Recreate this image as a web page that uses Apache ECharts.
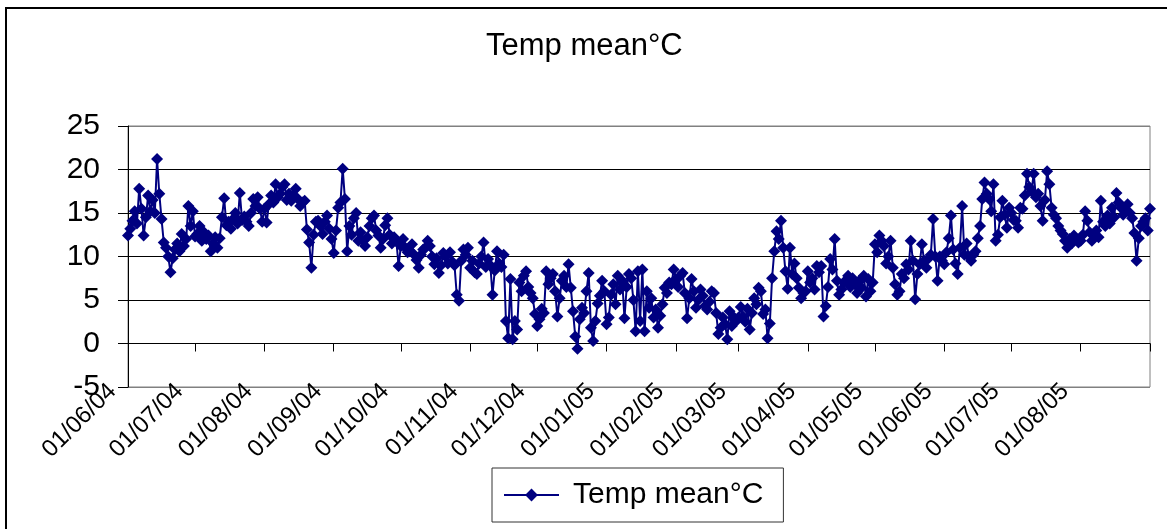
<!DOCTYPE html>
<html><head><meta charset="utf-8">
<script src="https://cdn.jsdelivr.net/npm/echarts@6/dist/echarts.min.js"></script>
<style>html,body{margin:0;padding:0;background:#fff}#c{width:1167px;height:529px}</style>
</head><body><div id="c"></div>
<script>
// Daily mean temperature, 01/06/04 .. 01/09/05
const titleText = 'Temp mean°C';
const seriesName = 'Temp mean°C';
const monthTickLabels = ['01/06/04','01/07/04','01/08/04','01/09/04','01/10/04','01/11/04','01/12/04',
  '01/01/05','01/02/05','01/03/05','01/04/05','01/05/05','01/06/05','01/07/05','01/08/05'];
const yTicks = [-5, 0, 5, 10, 15, 20, 25];

const jun04 = [12.4, 13.2, 14.1, 15.2, 13.8, 17.8, 15.5, 12.4, 14.5, 17.0, 15.2, 16.5, 15.0, 21.2, 17.2, 14.3, 11.6, 11.0, 10.0, 8.2, 9.8, 10.8, 11.5, 10.6, 12.6, 11.2, 12.0, 15.8, 13.5, 15.2];
const jul04 = [12.3, 12.6, 13.5, 11.8, 12.8, 12.0, 12.4, 10.6, 11.5, 12.2, 11.0, 12.1, 14.5, 16.7, 13.6, 14.0, 13.2, 14.3, 15.0, 13.8, 17.3, 14.2, 14.6, 14.0, 13.5, 15.0, 16.6, 15.8, 16.8, 15.5, 14.0];
const aug04 = [15.5, 13.9, 16.0, 17.0, 16.2, 18.3, 16.8, 17.2, 18.0, 18.3, 16.5, 17.2, 16.4, 17.0, 17.8, 16.6, 15.8, 16.2, 16.4, 13.1, 11.6, 8.7, 12.5, 14.0, 14.1, 13.5, 12.6, 14.0, 14.7, 13.2, 12.0];
const sep04 = [10.4, 13.0, 15.6, 16.2, 20.1, 16.6, 10.6, 13.5, 12.5, 14.4, 15.0, 11.8, 12.8, 11.8, 11.2, 12.2, 13.5, 14.4, 14.7, 13.0, 12.4, 11.0, 12.0, 13.6, 14.4, 12.5, 11.5, 12.2, 11.8, 8.9];
const oct04 = [11.2, 12.0, 11.0, 10.5, 10.6, 11.4, 10.2, 9.6, 8.7, 10.2, 10.8, 11.0, 11.8, 11.2, 10.0, 9.1, 9.8, 8.1, 9.0, 10.4, 10.0, 9.2, 10.5, 9.4, 9.0, 5.6, 4.9, 9.5, 10.8, 10.2, 11.0];
const nov04 = [8.7, 9.5, 8.2, 8.0, 9.2, 10.0, 11.6, 8.8, 9.7, 9.0, 5.6, 8.4, 10.6, 9.2, 8.8, 10.2, 2.6, 0.6, 7.4, 0.5, 2.6, 1.6, 7.0, 6.0, 7.8, 8.3, 6.5, 5.8, 5.2, 3.4];
const dec04 = [2.0, 2.8, 4.0, 3.5, 8.3, 6.8, 7.5, 8.0, 6.0, 3.1, 5.2, 7.2, 7.8, 6.5, 9.1, 6.4, 3.7, 0.8, -0.6, 2.8, 4.1, 3.5, 6.0, 8.1, 1.8, 0.3, 2.6, 4.6, 5.5, 7.2, 6.0];
const jan05 = [2.2, 3.0, 5.6, 6.8, 4.5, 7.8, 6.2, 7.2, 2.9, 6.5, 8.0, 7.5, 5.0, 1.4, 8.3, 2.6, 8.5, 1.4, 6.0, 4.1, 5.2, 3.0, 3.9, 1.8, 3.2, 4.5, 6.4, 5.8, 7.0, 6.8, 8.5];
const feb05 = [7.4, 6.5, 7.8, 8.1, 5.8, 2.9, 5.2, 7.4, 6.0, 4.1, 5.0, 6.2, 5.5, 4.3, 3.9, 4.8, 6.0, 5.8, 3.5, 1.1, 1.8, 3.0, 2.2, 0.5, 3.7, 2.0, 3.0, 2.6];
const mar05 = [3.0, 4.2, 3.1, 2.5, 4.0, 1.6, 3.5, 5.2, 4.5, 6.4, 6.0, 3.4, 3.9, 0.6, 2.3, 7.5, 10.6, 12.9, 12.0, 14.1, 11.0, 8.3, 6.3, 11.0, 8.0, 9.2, 7.5, 6.4, 5.2, 5.8, 6.0];
const apr05 = [8.3, 7.0, 7.5, 6.2, 8.9, 8.2, 8.9, 3.1, 4.3, 6.5, 9.7, 8.5, 12.0, 7.2, 5.6, 6.2, 7.0, 7.2, 7.8, 6.5, 7.5, 6.8, 5.8, 7.2, 6.4, 7.8, 5.4, 7.4, 6.0, 7.0];
const may05 = [11.4, 10.5, 12.4, 11.8, 11.2, 9.2, 10.0, 11.8, 8.7, 6.8, 5.6, 6.0, 8.0, 7.5, 9.1, 8.5, 11.8, 9.5, 5.1, 8.0, 9.1, 11.4, 9.5, 8.7, 9.8, 10.2, 14.3, 10.0, 7.2, 10.0, 9.5];
const jun05 = [9.1, 10.5, 12.1, 14.7, 10.8, 9.2, 8.0, 11.0, 15.8, 10.2, 11.5, 10.0, 9.5, 10.2, 10.6, 12.1, 13.5, 16.6, 18.5, 17.2, 16.6, 15.2, 18.3, 11.8, 12.5, 14.5, 16.4, 14.8, 13.3, 15.6];
const jul05 = [15.0, 14.2, 14.1, 13.3, 15.6, 15.5, 17.0, 19.5, 18.0, 17.5, 19.5, 16.8, 17.2, 15.8, 14.1, 16.5, 19.8, 18.3, 15.6, 14.8, 14.4, 13.5, 13.0, 12.6, 11.8, 11.0, 12.0, 11.5, 12.4, 12.0, 11.6];
const aug05 = [11.8, 12.5, 15.2, 14.1, 12.8, 11.8, 12.4, 13.0, 12.2, 16.4, 14.0, 13.5, 14.7, 13.8, 15.6, 14.5, 17.3, 16.2, 15.6, 14.8, 15.2, 16.0, 15.0, 14.4, 12.7, 9.5, 12.1, 13.5, 14.0, 14.4, 13.0];
const sep05 = [15.5];

const values = [].concat(jun04, jul04, aug04, sep04, oct04, nov04, dec04,
  jan05, feb05, mar05, apr05, may05, jun05, jul05, aug05, sep05);

function pad(n) { return (n < 10 ? '0' : '') + n; }
const categories = [];
for (let i = 0; i < values.length; i++) {
  const d = new Date(Date.UTC(2004, 5, 1 + i));
  categories.push(pad(d.getUTCDate()) + '/' + pad(d.getUTCMonth() + 1) + '/' + String(d.getUTCFullYear()).slice(2));
}

const FONT = '"Liberation Sans", Arial, sans-serif';
const chart = echarts.init(document.getElementById('c'), null, { renderer: 'canvas' });
chart.setOption({
  animation: false,
  backgroundColor: '#fff',
  graphic: [{
    type: 'rect', shape: { x: 6, y: 8, width: 1200, height: 600 },
    style: { fill: 'none', stroke: '#000', lineWidth: 2 }, silent: true, z: 100
  }],
  title: {
    text: titleText, left: 486, top: 31, padding: 0,
    textStyle: { fontFamily: FONT, fontSize: 31, fontWeight: 'normal', color: '#000' }
  },
  legend: {
    data: [seriesName], left: 492, top: 468,
    padding: [12, 20, 12, 11],
    borderColor: '#333', borderWidth: 1,
    itemWidth: 55, itemHeight: 16,
    textStyle: { fontFamily: FONT, fontSize: 30, color: '#000', padding: [0, 0, 0, 9] }
  },
  grid: {
    left: 128, right: 17, top: 126, bottom: 142,
    show: true, borderColor: '#808080', borderWidth: 1, backgroundColor: 'transparent'
  },
  xAxis: [{
    type: 'category', data: categories, boundaryGap: false, position: 'bottom',
    axisLine: { onZero: true, lineStyle: { color: '#000', width: 1 } },
    axisTick: { show: true, length: 8, lineStyle: { color: '#000' },
      interval: function (i, v) { return v.slice(0, 3) === '01/'; } },
    axisLabel: { show: false },
    splitLine: { show: false }
  }, {
    type: 'category', data: categories, boundaryGap: false, position: 'bottom',
    offset: -15,
    axisLine: { show: false, onZero: false },
    axisTick: { show: false },
    axisLabel: {
      show: true, rotate: 45, margin: 0, padding: [0, 22, 0, 0],
      fontFamily: FONT, fontSize: 24, color: '#000',
      interval: function (i, v) { return monthTickLabels.indexOf(v) >= 0; }
    },
    splitLine: { show: false }
  }],
  yAxis: {
    type: 'value', min: -5, max: 25, interval: 5,
    axisLine: { show: true, lineStyle: { color: '#000', width: 1 } },
    axisTick: { show: true, length: 10, lineStyle: { color: '#000' } },
    axisLabel: { fontFamily: FONT, fontSize: 30, color: '#000', margin: 28 },
    splitLine: { show: true, lineStyle: { color: ['#808080', '#000', '#000', '#000', '#000', '#000', '#808080'], width: 1 } }
  },
  series: [{
    name: seriesName, type: 'line', xAxisIndex: 0, data: values,
    symbol: 'diamond', symbolSize: 12, showSymbol: true, showAllSymbol: true,
    itemStyle: { color: '#000080' },
    lineStyle: { color: '#000080', width: 2 },
    emphasis: { disabled: true }
  }]
});
</script></body></html>
